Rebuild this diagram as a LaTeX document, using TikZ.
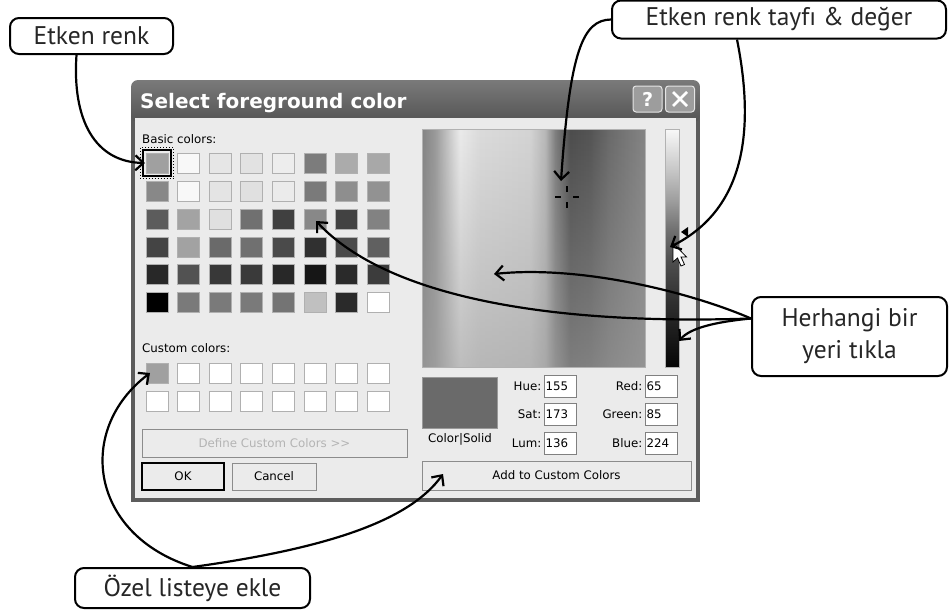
\documentclass[tikz,border=0pt]{standalone}
\usepackage{fontspec}
\setmainfont{PT Sans}
\newfontfamily\uifont{DejaVu Sans}
\newfontfamily\titlefont{DejaVu Sans}
\usetikzlibrary{arrows.meta,fadings,calc}
\definecolor{framec}{HTML}{5C5C5C}
\definecolor{bodyc}{HTML}{EBEBEB}
\definecolor{swb}{HTML}{B0B0B0}
\definecolor{btnb}{HTML}{8C8C8C}
\definecolor{greytxt}{HTML}{B4B4B4}
\definecolor{titletop}{HTML}{7A7A7A}
\definecolor{titlebot}{HTML}{545454}
\definecolor{solidc}{HTML}{6A6A6A}
\pgfdeclarehorizontalshading{spec}{100bp}{gray(0bp)=(0.52);gray(25bp)=(0.52);gray(27.7bp)=(0.60);gray(31.1bp)=(0.80);gray(33.3bp)=(0.92);gray(37.8bp)=(0.86);gray(49.1bp)=(0.83);gray(52.5bp)=(0.72);gray(54.7bp)=(0.50);gray(58.1bp)=(0.30);gray(62.6bp)=(0.33);gray(67.1bp)=(0.42);gray(75bp)=(0.52);gray(100bp)=(0.52)}
\pgfdeclareverticalshading{lum}{100bp}{gray(0bp)=(0.02);gray(25bp)=(0.02);gray(30.7bp)=(0.09);gray(39.1bp)=(0.19);gray(47.6bp)=(0.31);gray(53.9bp)=(0.44);gray(60.2bp)=(0.62);gray(66.6bp)=(0.78);gray(75bp)=(0.97);gray(100bp)=(0.97)}
\tikzfading[name=fadetop, top color=transparent!100, bottom color=transparent!0]
\tikzset{
  swatch/.style={minimum width=22pt, minimum height=20pt, inner sep=0pt, draw=swb, line width=1pt},
  uilabel/.style={font=\uifont\fontsize{11.8}{13}\selectfont, inner sep=0pt},
  btn/.style={draw=btnb, fill=bodyc, line width=1pt, inner sep=0pt, font=\uifont\fontsize{11.8}{13}\selectfont},
  tbox/.style={draw=gray, fill=white, line width=1pt, text width=29pt, inner xsep=1.5pt, inner ysep=0pt, minimum height=22pt, align=left, font=\uifont\fontsize{11.8}{13}\selectfont},
  titlebtn/.style={draw=white!80!gray, fill=white!40!framec, line width=1pt, rounded corners=3pt, minimum width=29pt, minimum height=26pt, inner sep=0pt, text=white, font=\titlefont\bfseries\fontsize{19}{20}\selectfont},
  callout/.style={draw=black, line width=2pt, rounded corners=9pt, fill=white, inner sep=0pt, align=center, font=\fontsize{25.5}{32}\selectfont, text=black!85},
  callarrow/.style={line width=2.2pt, -{Straight Barb[length=8pt,width=15pt,line width=2.2pt]}},
}
\begin{document}
\begin{tikzpicture}[x=1pt,y=-1pt]
\useasboundingbox (0,0) rectangle (949,613);
\fill[white] (0,0) rectangle (949,613);

% ---- dialog window ----
\fill[framec] (131,100) rectangle (700,502);
\shade[top color=titletop, bottom color=titlebot, rounded corners=7pt] (131,80) rectangle (700,122);
\fill[bodyc] (135,118) rectangle (696,498);
\node[anchor=base west, text=white, inner sep=0pt, font=\titlefont\bfseries\fontsize{20}{24}\selectfont] (title) at (140,108) {Select foreground color};
\node[titlebtn] (help) at (647.5,99) {?};
\node[titlebtn] (close) at (680,99) {};
\draw[white, line width=2.6pt] ([shift={(-7pt,7pt)}]close.center) -- ([shift={(7pt,-7pt)}]close.center);
\draw[white, line width=2.6pt] ([shift={(-7pt,-7pt)}]close.center) -- ([shift={(7pt,7pt)}]close.center);

% ---- basic colours ----
\node[uilabel, anchor=base west] (basiclbl) at (142,143) {Basic colors:};
\foreach \rr/\yy/\cl in {
  1/163/{A0A0A0,F8F8F8,E6E6E6,E2E2E2,EDEDED,7C7C7C,ABABAB,A8A8A8},
  2/191.5/{888888,F8F8F8,E4E4E4,E0E0E0,EBEBEB,7A7A7A,8E8E8E,929292},
  3/219/{5C5C5C,A3A3A3,E0E0E0,707070,404040,888888,424242,828282},
  4/247/{444444,A2A2A2,6A6A6A,707070,4A4A4A,303030,4A4A4A,606060},
  5/274.5/{282828,525252,383838,3A3A3A,282828,161616,2A2A2A,3C3C3C},
  6/302.5/{000000,7A7A7A,7A7A7A,7A7A7A,747474,C0C0C0,2A2A2A,FFFFFF}}{
  \foreach \hx [count=\k] in \cl {
    \definecolor{tmpc}{HTML}{\hx}
    \node[swatch, fill=tmpc] (b-\rr-\k) at ({157+(\k-1)*31.6},\yy) {};
  }
}
\draw[black, line width=1.5pt] ([shift={(-2.5pt,2.5pt)}]b-1-1.north west) rectangle ([shift={(2.5pt,-2.5pt)}]b-1-1.south east);
\draw[black, line width=1pt, dotted] ([shift={(-5pt,5pt)}]b-1-1.north west) rectangle ([shift={(5pt,-5pt)}]b-1-1.south east);

% ---- custom colours ----
\node[uilabel, anchor=base west] (customlbl) at (142,352) {Custom colors:};
\foreach \rr/\yy/\cl in {
  1/373/{A0A0A0,FFFFFF,FFFFFF,FFFFFF,FFFFFF,FFFFFF,FFFFFF,FFFFFF},
  2/401.5/{FFFFFF,FFFFFF,FFFFFF,FFFFFF,FFFFFF,FFFFFF,FFFFFF,FFFFFF}}{
  \foreach \hx [count=\k] in \cl {
    \definecolor{tmpc}{HTML}{\hx}
    \node[swatch, fill=tmpc] (c-\rr-\k) at ({157+(\k-1)*31.6},\yy) {};
  }
}

% ---- buttons ----
\node[btn, minimum width=265pt, minimum height=28pt, text=greytxt] (define) at (274.5,443) {Define Custom Colors >>};
\node[btn, draw=black, line width=1.4pt, minimum width=82pt, minimum height=27pt] (ok) at (183,476.5) {OK};
\node[btn, minimum width=84pt, minimum height=27pt] (cancel) at (274,476.5) {Cancel};
\node[btn, minimum width=269pt, minimum height=29pt] (add) at (556.5,475.5) {Add to Custom Colors};

% ---- spectrum ----
\node[minimum width=222pt, minimum height=237pt, inner sep=0pt] (spectrum) at (534,248.5) {};
\shade[shading=spec] (spectrum.south west) rectangle (spectrum.north east);
\fill[gray!75, fill opacity=0.6, path fading=fadetop] (spectrum.south west) rectangle (spectrum.north east);
\draw[gray!60, line width=1pt] (spectrum.south west) rectangle (spectrum.north east);
\coordinate (cross) at (567,197);
\draw[black, line width=2.6pt] ([yshift=11pt]cross) -- ([yshift=5pt]cross);
\draw[black, line width=2.6pt] ([yshift=-5pt]cross) -- ([yshift=-11pt]cross);
\draw[black, line width=2.6pt] ([xshift=-12pt]cross) -- ([xshift=-6pt]cross);
\draw[black, line width=2.6pt] ([xshift=6pt]cross) -- ([xshift=12pt]cross);

% ---- luminance slider ----
\node[minimum width=13pt, minimum height=237pt, inner sep=0pt] (lumbar) at (672.5,248.5) {};
\shade[shading=lum] (lumbar.south west) rectangle (lumbar.north east);
\draw[gray!60, line width=0.8pt] (lumbar.south west) rectangle (lumbar.north east);
\fill[black] (681,232) -- (688,227) -- (688,237) -- cycle;
\filldraw[fill=white, draw=black, line width=0.8pt, shift={(673,243)}] (0,0) -- (0,19) -- (4.5,15) -- (8,23) -- (11.5,21.5) -- (8,14) -- (13.5,14) -- cycle;

% ---- current colour and values ----
\node[draw=gray!80, fill=solidc, line width=1pt, minimum width=75pt, minimum height=51pt, inner sep=0pt] (solid) at (459.5,402.5) {};
\node[uilabel] (solidlbl) at (460,439) {Color|Solid};
\node[tbox] (hue) at (560,386) {155};
\node[tbox] (sat) at (560,414) {173};
\node[tbox] (lum) at (560,443) {136};
\node[tbox] (red) at (661,386) {65};
\node[tbox] (green) at (661,414) {85};
\node[tbox] (blue) at (661,443) {224};
\node[uilabel, anchor=east] at ([xshift=-2pt]hue.west) {Hue:};
\node[uilabel, anchor=east] at ([xshift=-2pt]sat.west) {Sat:};
\node[uilabel, anchor=east] at ([xshift=-2pt]lum.west) {Lum:};
\node[uilabel, anchor=east] at ([xshift=-2pt]red.west) {Red:};
\node[uilabel, anchor=east] at ([xshift=-2pt]green.west) {Green:};
\node[uilabel, anchor=east] at ([xshift=-2pt]blue.west) {Blue:};

% ---- callouts ----
\node[callout, minimum width=163pt, minimum height=36pt] (etken) at (91.5,36) {Etken renk};
\node[callout, minimum width=334pt, minimum height=38pt] (tayf) at (779,19.5) {Etken renk tayfı \& değer};
\node[callout, minimum width=195pt, minimum height=79pt] (herh) at (849.5,336.5) {Herhangi bir\\yeri tıkla};
\node[callout, minimum width=235pt, minimum height=40pt] (ozel) at (192.5,588) {Özel listeye ekle};

\coordinate (t1) at (145,163);
\coordinate (t2) at (561,181);
\coordinate (t3) at (670,247);
\coordinate (t4) at (316,221);
\coordinate (t5) at (494,274);
\coordinate (t6) at (679,341);
\coordinate (t7) at (150,373);
\coordinate (t8) at (443,474);

\draw[callarrow] ([xshift=-15pt]etken.south) .. controls (72,120) and (95,162) .. (t1);
\draw[callarrow] (tayf.west) .. controls (583,20) and (570,50) .. (t2);
\draw[callarrow] ([xshift=-42pt]tayf.south) .. controls (757,140) and (740,212) .. (t3);
\draw[callarrow] ([yshift=18pt]herh.west) .. controls (560,325) and (390,300) .. (t4);
\draw[callarrow] ([yshift=18pt]herh.west) .. controls (690,292) and (580,265) .. (t5);
\draw[callarrow] ([yshift=18pt]herh.west) .. controls (715,322) and (690,328) .. (t6);
\draw[callarrow] (ozel.north) .. controls (90,535) and (75,430) .. (t7);
\draw[callarrow] (ozel.north) .. controls (330,548) and (410,520) .. (t8);
\end{tikzpicture}
\end{document}
